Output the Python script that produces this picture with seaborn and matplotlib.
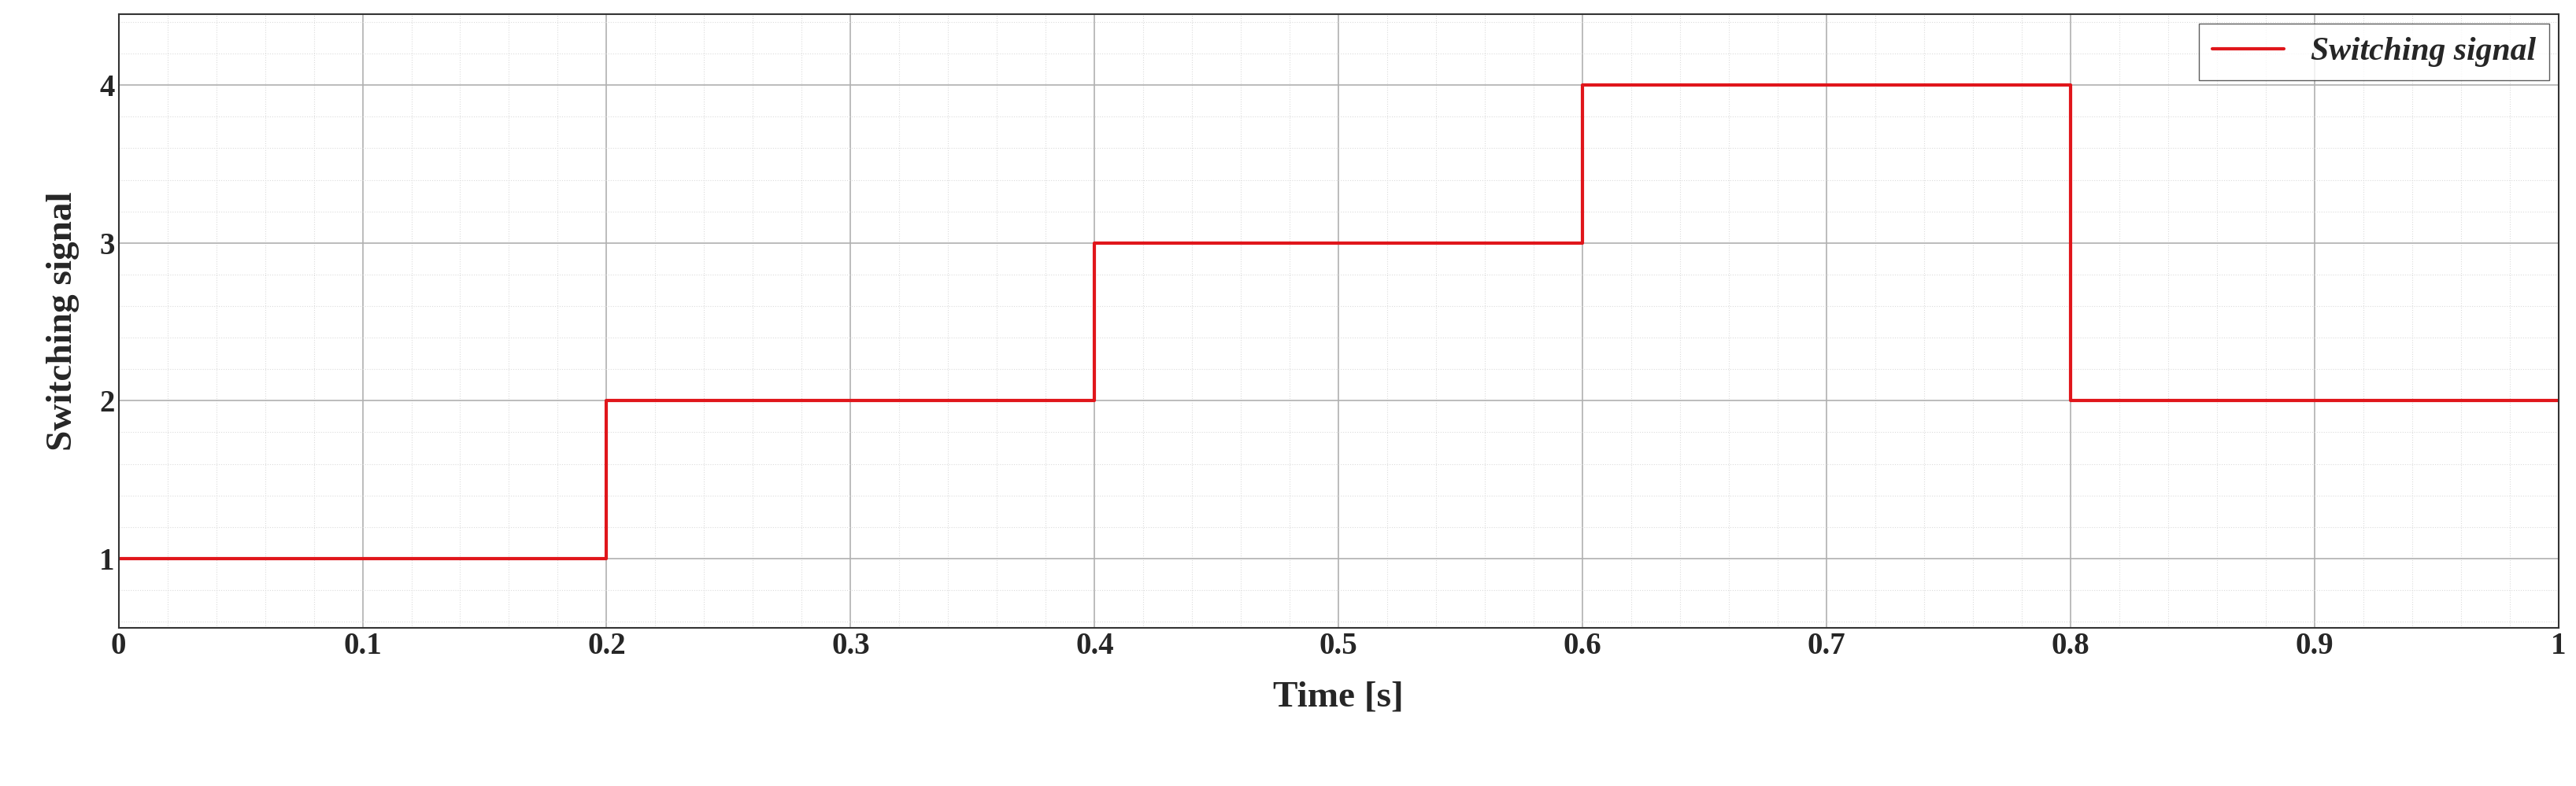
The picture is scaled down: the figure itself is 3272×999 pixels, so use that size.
import matplotlib
matplotlib.use("Agg")
import matplotlib.pyplot as plt
import seaborn as sns
import pandas as pd
from matplotlib.ticker import MultipleLocator

time_s = [0.0, 0.2, 0.4, 0.6, 0.8, 1.0]
signal = [1, 2, 3, 4, 2, 2]

sns.set_style("white")
plt.rcParams['font.family'] = ['Liberation Serif', 'DejaVu Serif']
plt.rcParams['font.weight'] = 'bold'

fig = plt.figure(figsize=(32.73, 9.99), dpi=100)
ax = fig.add_axes([0.046, 0.201, 0.947, 0.781])
df = pd.DataFrame({"t": time_s, "s": signal})
sns.lineplot(data=df, x="t", y="s", ax=ax, color="#e0161b", linewidth=3,
             drawstyle="steps-post", label="Switching signal")
ax.set_xlim(0, 1)
ax.set_ylim(0.56, 4.45)
ax.xaxis.set_major_locator(MultipleLocator(0.1))
ax.xaxis.set_minor_locator(MultipleLocator(0.02))
ax.yaxis.set_major_locator(MultipleLocator(1))
ax.yaxis.set_minor_locator(MultipleLocator(0.2))
ax.set_xticks([0, .1, .2, .3, .4, .5, .6, .7, .8, .9, 1])
ax.set_xticklabels(["0", "0.1", "0.2", "0.3", "0.4", "0.5", "0.6", "0.7", "0.8", "0.9", "1"])
ax.grid(which="major", color="#b0b0b0", linewidth=1.2)
ax.grid(which="minor", color="#dcdcdc", linewidth=0.8, linestyle=":")
ax.tick_params(labelsize=28, direction="in", length=8)
for lab in ax.get_xticklabels() + ax.get_yticklabels():
    lab.set_fontweight("bold")
ax.set_xlabel("Time [s]", fontsize=34, fontweight="bold", labelpad=18)
ax.set_ylabel("Switching signal", fontsize=34, fontweight="bold", labelpad=18)
for sp in ax.spines.values():
    sp.set_color("#333333"); sp.set_linewidth(1.5)
leg = ax.legend(loc="upper right", fontsize=30, frameon=True, fancybox=False,
                edgecolor="#333333", borderaxespad=0.3, handlelength=2.2)
for t in leg.get_texts():
    t.set_fontstyle("italic"); t.set_fontweight("bold")
fig.savefig("out.png", dpi=100, facecolor="white")
